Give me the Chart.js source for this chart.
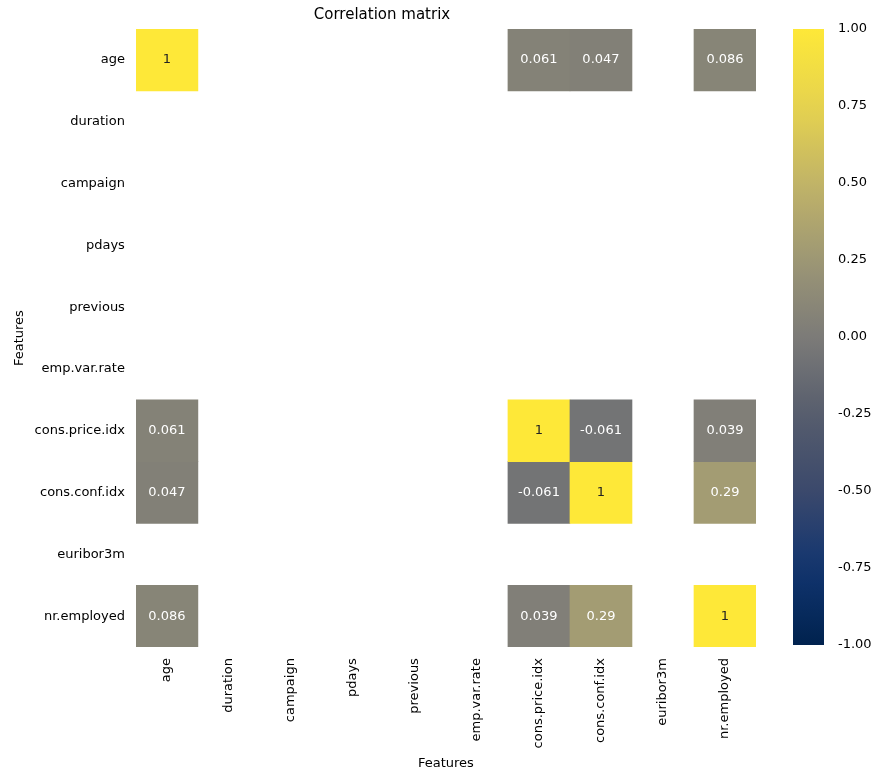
<!DOCTYPE html>
<html><head><meta charset="utf-8">
<script src="https://cdn.jsdelivr.net/npm/chart.js@4"></script>
<style>
body{margin:0;background:#fff;font-family:"DejaVu Sans",sans-serif}
#wrap{position:relative;width:887px;height:781px}
#main{position:absolute;left:0;top:0}
#cb{position:absolute;left:780px;top:0}
</style></head><body>
<div id="wrap"><canvas id="main" width="887" height="781"></canvas><canvas id="cb" width="107" height="781"></canvas></div>
<script>
const features = ['age','duration','campaign','pdays','previous','emp.var.rate','cons.price.idx','cons.conf.idx','euribor3m','nr.employed'];
const _ = null;
const corr = [
  [1, _, _, _, _, _, 0.061, 0.047, _, 0.086],
  [_, _, _, _, _, _, _, _, _, _],
  [_, _, _, _, _, _, _, _, _, _],
  [_, _, _, _, _, _, _, _, _, _],
  [_, _, _, _, _, _, _, _, _, _],
  [_, _, _, _, _, _, _, _, _, _],
  [0.061, _, _, _, _, _, 1, -0.061, _, 0.039],
  [0.047, _, _, _, _, _, -0.061, 1, _, 0.29],
  [_, _, _, _, _, _, _, _, _, _],
  [0.086, _, _, _, _, _, 0.039, 0.29, _, 1]
];
const cbTicks = [-1, -0.75, -0.5, -0.25, 0, 0.25, 0.5, 0.75, 1];

// approximate cividis
const stops = [[0,34,78],[18,53,112],[59,73,108],[87,93,109],[124,123,120],[157,151,117],[193,180,103],[230,211,78],[254,232,56]];
function cividis(v) {
  const t = Math.max(0, Math.min(1, (v + 1) / 2)) * (stops.length - 1);
  const i = Math.min(stops.length - 2, Math.floor(t)), f = t - i;
  const c = stops[i].map((a, k) => Math.round(a + (stops[i + 1][k] - a) * f));
  return `rgb(${c[0]},${c[1]},${c[2]})`;
}

Chart.defaults.font.family = '"DejaVu Sans", sans-serif';
Chart.defaults.font.size = 13;
Chart.defaults.color = '#000';

const datasets = corr.map((row, r) => ({
  label: features[r],
  data: row.map(v => v === null ? null : [r, r + 1]),
  values: row,
  backgroundColor: row.map(v => v === null ? 'rgba(0,0,0,0)' : cividis(v)),
  borderWidth: 0,
  grouped: false,
  barPercentage: 1,
  categoryPercentage: 1
}));

const cellText = {
  id: 'cellText',
  afterDatasetsDraw(chart) {
    const ctx = chart.ctx;
    ctx.save();
    ctx.font = '13px "DejaVu Sans"';
    ctx.textAlign = 'center';
    ctx.textBaseline = 'middle';
    chart.data.datasets.forEach((ds, di) => {
      chart.getDatasetMeta(di).data.forEach((bar, i) => {
        const v = ds.values[i];
        if (v === null) return;
        ctx.fillStyle = v > 0.6 ? '#222' : '#fff';
        ctx.fillText(String(v), bar.x, (bar.y + bar.base) / 2);
      });
    });
    ctx.restore();
  }
};

new Chart(document.getElementById('main'), {
  type: 'bar',
  data: { labels: features, datasets },
  plugins: [cellText],
  options: {
    responsive: false, animation: false,
    layout: { padding: { right: 131, top: 0, left: 8, bottom: 6 } },
    plugins: {
      legend: { display: false }, tooltip: { enabled: false },
      title: { display: true, text: 'Correlation matrix', font: { size: 15, weight: 'normal' }, padding: { top: 6, bottom: 5 } }
    },
    scales: {
      x: {
        grid: { display: false }, border: { display: false },
        ticks: { maxRotation: 90, minRotation: 90, autoSkip: false },
        title: { display: true, text: 'Features', font: { size: 13 } }
      },
      y: {
        min: 0, max: 10, reverse: true,
        grid: { display: false }, border: { display: false },
        afterBuildTicks(axis) { axis.ticks = features.map((f, i) => ({ value: i + 0.5 })); },
        ticks: { autoSkip: false, callback: (v) => features[Math.floor(v)] },
        title: { display: true, text: 'Features', font: { size: 13 } }
      }
    }
  }
});

const cbCanvas = document.getElementById('cb');
new Chart(cbCanvas, {
  type: 'bar',
  data: { labels: [''], datasets: [{
    data: [[-1, 1]],
    borderWidth: 0, barPercentage: 1, categoryPercentage: 1,
    backgroundColor(c) {
      const a = c.chart.chartArea;
      if (!a) return '#888';
      const g = c.chart.ctx.createLinearGradient(0, a.bottom, 0, a.top);
      for (let k = 0; k <= 20; k++) g.addColorStop(k / 20, cividis(-1 + k / 10));
      return g;
    }
  }] },
  options: {
    responsive: false, animation: false,
    layout: { padding: { top: 29, bottom: 136, left: 13, right: 0 } },
    plugins: { legend: { display: false }, tooltip: { enabled: false } },
    scales: {
      x: { display: false },
      y: {
        position: 'right', min: -1, max: 1,
        grid: { display: false, drawTicks: true },
        border: { display: false },
        afterBuildTicks(axis) { axis.ticks = cbTicks.map(v => ({ value: v })); },
        afterFit(axis) { axis.width = 63; },
        ticks: { callback: v => v.toFixed(2), padding: 6 }
      }
    }
  }
});
</script></body></html>
